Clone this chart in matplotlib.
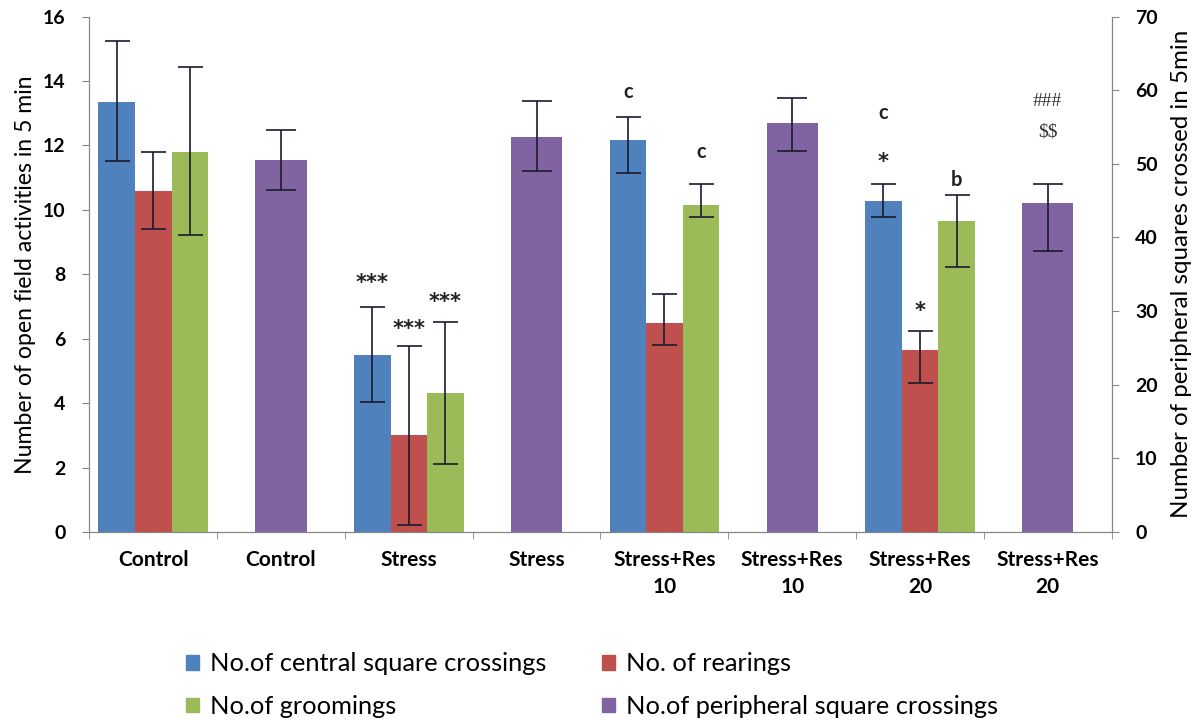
import matplotlib
matplotlib.use("Agg")
import matplotlib.pyplot as plt
from matplotlib.patches import Patch
import numpy as np

plt.rcParams['font.family'] = ['Lato', 'DejaVu Sans']

# Category labels along the x axis (eight slots)
slot_labels = ["Control", "Control", "Stress", "Stress",
               "Stress+Res\n10", "Stress+Res\n10", "Stress+Res\n20", "Stress+Res\n20"]

# Left-axis series (groups 1, 3, 5, 7)
central = [13.35, 5.50, 12.16, 10.28]
central_lo = [1.84, 1.47, 1.00, 0.51]
central_hi = [1.88, 1.49, 0.71, 0.52]

rearings = [10.60, 3.01, 6.48, 5.65]
rearings_lo = [1.20, 2.79, 0.68, 1.02]
rearings_hi = [1.20, 2.78, 0.91, 0.60]

groomings = [11.81, 4.31, 10.14, 9.65]
groomings_lo = [2.58, 2.21, 0.35, 1.42]
groomings_hi = [2.62, 2.21, 0.66, 0.80]

# Right-axis series (groups 2, 4, 6, 8)
peripheral = [50.5, 53.7, 55.6, 44.7]
peripheral_lo = [4.1, 4.7, 3.8, 6.5]
peripheral_hi = [4.1, 4.9, 3.4, 2.5]

# Significance marks: (slot, series offset index, left-axis y, text)
star_marks = [
    (2, -1, 7.72, "***"),
    (2, 0, 6.29, "***"),
    (2, 1, 7.15, "***"),
    (6, -1, 11.50, "*"),
    (6, 0, 6.85, "*"),
]
letter_marks = [
    (4, -1, 13.65, "c"),
    (4, 1, 11.80, "c"),
    (6, -1, 13.02, "c"),
    (6, 1, 10.94, "b"),
]
right_marks = [(7, 58.4, "###"), (7, 54.3, "$$")]

BLUE = "#4F81BD"
RED = "#C0504D"
GREEN = "#9BBB59"
PURPLE = "#8064A2"
SPINE = "#868686"
ERR = "#1a1a2e"

fig = plt.figure(figsize=(12.04, 7.2), dpi=100)
ax = fig.add_axes([0.0742, 0.261, 0.8491, 0.716])
ax2 = ax.twinx()

tri_x = np.array([0, 2, 4, 6])
per_x = np.array([1, 3, 5, 7])
w = 0.286
pw = 0.40

err_kw = dict(ecolor=ERR, elinewidth=1.2, capthick=1.2)
for off, vals, lo, hi, col in [(-w, central, central_lo, central_hi, BLUE),
                               (0, rearings, rearings_lo, rearings_hi, RED),
                               (w, groomings, groomings_lo, groomings_hi, GREEN)]:
    ax.bar(tri_x + off, vals, width=w, color=col, zorder=2)
    ax.errorbar(tri_x + off, vals, yerr=[lo, hi], fmt='none', capsize=9,
                zorder=3, **err_kw)

ax2.bar(per_x, peripheral, width=pw, color=PURPLE, zorder=2)
ax2.errorbar(per_x, peripheral, yerr=[peripheral_lo, peripheral_hi], fmt='none',
             capsize=11, zorder=3, **err_kw)

ax.set_xlim(-0.5, 7.5)
ax.set_ylim(0, 16)
ax2.set_ylim(0, 70)
ax.set_yticks(np.arange(0, 17, 2))
ax2.set_yticks(np.arange(0, 71, 10))

ax.set_xticks(np.arange(8))
ax.set_xticklabels(slot_labels, fontsize=15, fontweight='bold', linespacing=1.45)
ax.set_xticks(np.arange(-0.5, 8.0, 1.0), minor=True)
ax.tick_params(axis='x', which='major', length=0, pad=13)
ax.tick_params(axis='x', which='minor', length=5, direction='out', color=SPINE)

for a in (ax, ax2):
    for s in a.spines.values():
        s.set_color(SPINE)
    a.spines['top'].set_visible(False)
ax.tick_params(axis='y', length=5, direction='out', color=SPINE, pad=12,
               labelsize=14)
ax2.tick_params(axis='y', length=5, direction='out', color=SPINE, pad=12,
                labelsize=14)
for lab in ax.get_yticklabels() + ax2.get_yticklabels():
    lab.set_fontweight('bold')

ax.set_ylabel("Number of open field activities in 5 min", fontsize=16.6, labelpad=5)
ax2.set_ylabel("Number of peripheral squares crossed in 5min", fontsize=17.4,
               labelpad=9)

for slot, k, y, txt in star_marks:
    ax.text(slot + k * w, y, txt, ha='center', va='center', fontsize=15,
            fontweight='bold', family='DejaVu Sans', color='#222222', zorder=4)
for slot, k, y, txt in letter_marks:
    ax.text(slot + k * w, y, txt, ha='center', va='center', fontsize=14.5,
            fontweight='bold', color='#222222', zorder=4)
for slot, y, txt in right_marks:
    ax2.text(slot, y, txt, ha='center', va='center', fontsize=14,
             color='#333333', family='Liberation Serif', zorder=4,
             parse_math=False)

handles = [Patch(color=BLUE, label="No.of central square crossings"),
           Patch(color=GREEN, label="No.of groomings"),
           Patch(color=RED, label="No. of rearings"),
           Patch(color=PURPLE, label="No.of peripheral square crossings")]
fig.legend(handles=handles, ncol=2, loc='upper left',
           bbox_to_anchor=(0.146, 0.108), frameon=False,
           fontsize=18.3, handlelength=0.5, handleheight=0.5,
           handletextpad=0.43, columnspacing=2.2, labelspacing=0.78,
           borderaxespad=0)

fig.savefig("out.png", dpi=100)
